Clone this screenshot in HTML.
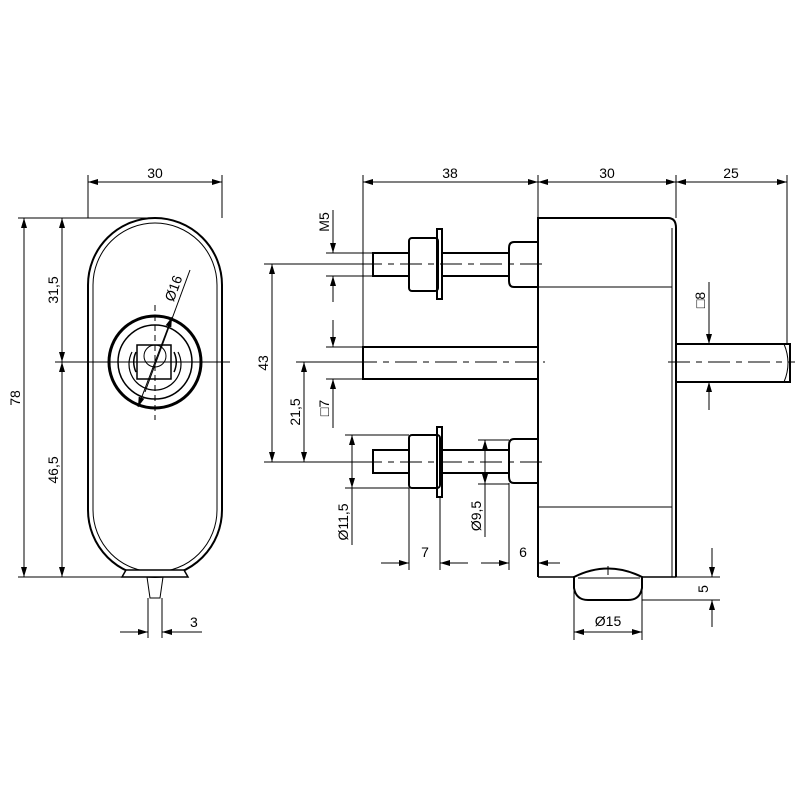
<!DOCTYPE html>
<html><head><meta charset="utf-8"><style>html,body{margin:0;padding:0;background:#fff}svg{display:block}text{font-family:"Liberation Sans",sans-serif;font-size:14px;fill:#000}</style></head>
<body>
<svg width="800" height="800" viewBox="0 0 800 800" xmlns="http://www.w3.org/2000/svg">
<defs>
<marker id="a" viewBox="0 0 10 6" refX="10" refY="3" markerWidth="11" markerHeight="6" orient="auto-start-reverse" markerUnits="userSpaceOnUse"><path d="M0,0 L10,3 L0,6z" fill="#000"/></marker>
</defs>
<g fill="none" stroke="#000" stroke-width="1">
<!-- LEFT VIEW -->
<path d="M88,510 V285 A67,67 0 0 1 222,285 V510 A67,67 0 0 1 88,510 Z" stroke-width="2"/>
<path d="M93,510 V285 A62,62 0 0 1 217,285 V510 A62,62 0 0 1 93,510 Z"/>
<path d="M122,577 L126,570 H184 L188,577 Z" stroke-width="1.5" fill="#fff"/>
<path d="M147,577 L150,598 H160 L163,577" />
<line x1="148" y1="598" x2="148" y2="638"/><line x1="162" y1="598" x2="162" y2="638"/>
<circle cx="155" cy="362" r="46" stroke-width="3"/>
<circle cx="155" cy="362" r="37" stroke-width="1.5"/>
<rect x="137" y="345" width="34" height="34" stroke-width="1.5"/>
<path d="M136,352 A24,24 0 0 0 136,372 M174,352 A24,24 0 0 1 174,372" stroke-width="1.5"/>
<path d="M132,352 A26,26 0 1 0 178,352" stroke-width="1.2"/>
<circle cx="155" cy="356" r="11"/>
<line x1="155" y1="305" x2="155" y2="420" stroke-dasharray="6,4"/>
<!-- dims left -->
<line x1="88" y1="218" x2="88" y2="175"/><line x1="222" y1="218" x2="222" y2="175"/>
<line x1="88" y1="182" x2="222" y2="182" marker-start="url(#a)" marker-end="url(#a)"/>
<line x1="18" y1="218" x2="155" y2="218"/><line x1="18" y1="577" x2="122" y2="577"/>
<line x1="24" y1="218" x2="24" y2="577" marker-start="url(#a)" marker-end="url(#a)"/>
<line x1="55" y1="362" x2="230" y2="362"/>
<line x1="62" y1="218" x2="62" y2="362" marker-start="url(#a)" marker-end="url(#a)"/>
<line x1="62" y1="362" x2="62" y2="577" marker-start="url(#a)" marker-end="url(#a)"/>
<line x1="190" y1="270" x2="145" y2="392"/>
<line x1="172" y1="317" x2="138" y2="407" marker-start="url(#a)" marker-end="url(#a)"/>
<line x1="120" y1="632" x2="148" y2="632" marker-end="url(#a)"/>
<line x1="162" y1="632" x2="202" y2="632" marker-start="url(#a)"/>
<!-- RIGHT VIEW body -->
<path d="M538,577 V218 H668 Q676,218 676,228 V577" stroke-width="2"/>
<line x1="672" y1="228" x2="672" y2="577"/>
<line x1="538" y1="287" x2="672" y2="287"/>
<line x1="538" y1="507" x2="672" y2="507"/>
<line x1="538" y1="577" x2="574" y2="577" stroke-width="1.5"/><line x1="642" y1="577" x2="676" y2="577" stroke-width="1.5"/>
<path d="M574,577 Q608,560 642,577 L642,588 Q640,600 628,600 H588 Q576,600 574,588 Z" stroke-width="2"/>
<line x1="578" y1="578" x2="640" y2="578"/><line x1="608" y1="566" x2="608" y2="575"/>
<g stroke-width="2">
<rect x="373" y="253" width="36" height="23"/>
<rect x="409" y="238" width="29" height="53" rx="3"/>
<rect x="437" y="229" width="5" height="70"/>
<rect x="442" y="253" width="67" height="23"/>
<path d="M538,242 H514 Q509,242 509,248 V281 Q509,287 514,287 H538"/>
<rect x="373" y="450" width="36" height="23"/>
<rect x="409" y="435" width="31" height="53" rx="3"/>
<rect x="437" y="427" width="5" height="70"/>
<rect x="442" y="450" width="67" height="23"/>
<path d="M538,439 H514 Q509,439 509,445 V477 Q509,483 514,483 H538"/>
<rect x="363" y="347" width="175" height="32"/>
<path d="M676,344 H790 V382 H676"/>
</g>
<path d="M784,344 Q792,363 784,382"/>
<g stroke-dasharray="22,6,6,6">
<line x1="360" y1="264" x2="545" y2="264"/>
<line x1="355" y1="362" x2="545" y2="362"/>
<line x1="360" y1="462" x2="545" y2="462"/>
<line x1="668" y1="362" x2="795" y2="362"/>
</g>
<!-- dims right -->
<line x1="363" y1="347" x2="363" y2="175"/><line x1="538" y1="218" x2="538" y2="175"/>
<line x1="676" y1="218" x2="676" y2="175"/><line x1="787" y1="344" x2="787" y2="175"/>
<line x1="363" y1="182" x2="538" y2="182" marker-start="url(#a)" marker-end="url(#a)"/>
<line x1="538" y1="182" x2="676" y2="182" marker-start="url(#a)" marker-end="url(#a)"/>
<line x1="676" y1="182" x2="787" y2="182" marker-start="url(#a)" marker-end="url(#a)"/>
<line x1="264" y1="264" x2="373" y2="264"/><line x1="264" y1="462" x2="373" y2="462"/>
<line x1="272" y1="264" x2="272" y2="462" marker-start="url(#a)" marker-end="url(#a)"/>
<line x1="296" y1="362" x2="363" y2="362"/>
<line x1="304" y1="362" x2="304" y2="462" marker-start="url(#a)" marker-end="url(#a)"/>
<line x1="326" y1="253" x2="373" y2="253"/><line x1="326" y1="276" x2="373" y2="276"/>
<line x1="333" y1="210" x2="333" y2="253" marker-end="url(#a)"/><line x1="333" y1="276" x2="333" y2="302" marker-start="url(#a)"/>
<line x1="326" y1="347" x2="363" y2="347"/><line x1="326" y1="379" x2="363" y2="379"/>
<line x1="333" y1="320" x2="333" y2="347" marker-end="url(#a)"/><line x1="333" y1="379" x2="333" y2="428" marker-start="url(#a)"/>
<line x1="345" y1="435" x2="409" y2="435"/><line x1="345" y1="488" x2="409" y2="488"/>
<line x1="352" y1="435" x2="352" y2="545"/><line x1="352" y1="435" x2="352" y2="488" marker-start="url(#a)" marker-end="url(#a)"/>
<line x1="478" y1="440" x2="509" y2="440"/><line x1="478" y1="484" x2="509" y2="484"/>
<line x1="485" y1="440" x2="485" y2="537"/><line x1="485" y1="440" x2="485" y2="484" marker-start="url(#a)" marker-end="url(#a)"/>
<line x1="409" y1="488" x2="409" y2="570"/><line x1="440" y1="497" x2="440" y2="570"/>
<line x1="381" y1="563" x2="409" y2="563" marker-end="url(#a)"/><line x1="440" y1="563" x2="468" y2="563" marker-start="url(#a)"/>
<line x1="509" y1="483" x2="509" y2="570"/>
<line x1="481" y1="563" x2="509" y2="563" marker-end="url(#a)"/><line x1="538" y1="563" x2="560" y2="563" marker-start="url(#a)"/>
<line x1="709" y1="282" x2="709" y2="344" marker-end="url(#a)"/><line x1="709" y1="382" x2="709" y2="410" marker-start="url(#a)"/>
<line x1="642" y1="577" x2="720" y2="577"/><line x1="642" y1="600" x2="720" y2="600"/>
<line x1="712" y1="548" x2="712" y2="577" marker-end="url(#a)"/><line x1="712" y1="600" x2="712" y2="627" marker-start="url(#a)"/>
<line x1="574" y1="588" x2="574" y2="640"/><line x1="642" y1="588" x2="642" y2="640"/>
<line x1="574" y1="632" x2="642" y2="632" marker-start="url(#a)" marker-end="url(#a)"/>
</g>
<text x="155" y="178" text-anchor="middle">30</text>
<text transform="translate(20,398) rotate(-90)" text-anchor="middle">78</text>
<text transform="translate(58,290) rotate(-90)" text-anchor="middle">31,5</text>
<text transform="translate(58,470) rotate(-90)" text-anchor="middle">46,5</text>
<text transform="translate(178,290) rotate(-70)" text-anchor="middle">Ø16</text>
<text x="190" y="627">3</text>
<text x="450" y="178" text-anchor="middle">38</text>
<text x="607" y="178" text-anchor="middle">30</text>
<text x="731" y="178" text-anchor="middle">25</text>
<text transform="translate(268,363) rotate(-90)" text-anchor="middle">43</text>
<text transform="translate(300,412) rotate(-90)" text-anchor="middle">21,5</text>
<text transform="translate(329,222) rotate(-90)" text-anchor="middle">M5</text>
<text transform="translate(329,408) rotate(-90)" text-anchor="middle">□7</text>
<text transform="translate(348,522) rotate(-90)" text-anchor="middle">Ø11,5</text>
<text transform="translate(481,516) rotate(-90)" text-anchor="middle">Ø9,5</text>
<text transform="translate(705,300) rotate(-90)" text-anchor="middle">□8</text>
<text transform="translate(708,589) rotate(-90)" text-anchor="middle">5</text>
<text x="425" y="557" text-anchor="middle">7</text>
<text x="523" y="557" text-anchor="middle">6</text>
<text x="608" y="626" text-anchor="middle">Ø15</text>
</svg>
</body></html>
